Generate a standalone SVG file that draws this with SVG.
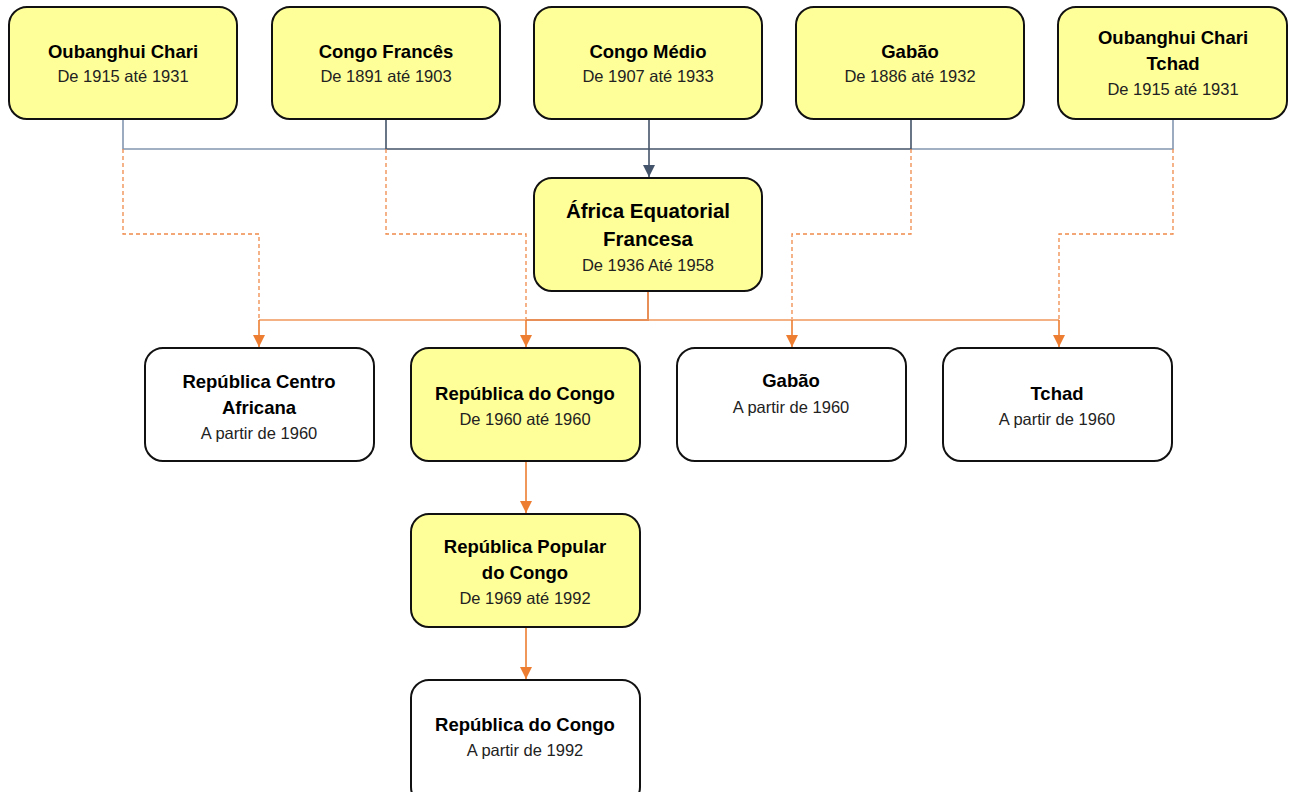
<svg xmlns="http://www.w3.org/2000/svg" width="1289" height="792" viewBox="0 0 1289 792">
<style>
.box{stroke:#111;stroke-width:2}
.y{fill:#FFFF99}
.w{fill:#FFFFFF}
.t{font-family:"Liberation Sans",Arial,sans-serif;font-weight:bold;font-size:18.5px;fill:#000;text-anchor:middle}
.tb{font-family:"Liberation Sans",Arial,sans-serif;font-weight:bold;font-size:20.5px;fill:#000;text-anchor:middle}
.s{font-family:"Liberation Sans",Arial,sans-serif;font-size:16.5px;fill:#222;text-anchor:middle}
.g1{fill:none;stroke:#8497B0;stroke-width:1.6}
.g2{fill:none;stroke:#44546A;stroke-width:1.6}
.d{fill:none;stroke:#F08A4B;stroke-width:1.3;stroke-dasharray:4 3}
.o{fill:none;stroke:#F4B183;stroke-width:2}
.o2{fill:none;stroke:#E88F57;stroke-width:2}
.oa{fill:none;stroke:#ED7D31;stroke-width:1.6;marker-end:url(#ao)}
</style>
<defs>
<marker id="ao" viewBox="0 0 10 10" refX="10" refY="5" markerWidth="12" markerHeight="12" markerUnits="userSpaceOnUse" orient="auto"><path d="M0,0 L10,5 L0,10 z" fill="#ED7D31"/></marker>
<marker id="ag" viewBox="0 0 10 10" refX="10" refY="5" markerWidth="12" markerHeight="12" markerUnits="userSpaceOnUse" orient="auto"><path d="M0,0 L10,5 L0,10 z" fill="#44546A"/></marker>
</defs>
<rect width="1289" height="792" fill="#fff"/>
<g id="connectors">
<path class="g1" d="M123,119 V149 H386"/>
<path class="g1" d="M911,149 H1173 V119"/>
<path class="g2" d="M386,119 V149 H911 V119"/>
<path d="M649,119 V177" fill="none" stroke="#44546A" stroke-width="1.6" marker-end="url(#ag)"/>
<path class="d" d="M123,149 V234 H259 V320"/>
<path class="d" d="M386,149 V234 H526 V320"/>
<path class="d" d="M911,149 V234 H792 V320"/>
<path class="d" d="M1173,149 V234 H1059 V320"/>
<path class="o" d="M259,320 H1059"/>
<path class="o2" d="M648,291 V320 H526"/>
<path class="oa" d="M259,320 V347"/>
<path class="oa" d="M526,320 V347"/>
<path class="oa" d="M792,320 V347"/>
<path class="oa" d="M1059,320 V347"/>
<path class="oa" d="M526,461 V513"/>
<path class="oa" d="M526,627 V679"/>
</g>
<g id="n1"><rect class="box y" x="9" y="7" width="228" height="112" rx="18"/><text class="t" x="123" y="58">Oubanghui Chari</text><text class="s" x="123" y="82">De 1915 até 1931</text></g>
<g id="n2"><rect class="box y" x="272" y="7" width="228" height="112" rx="18"/><text class="t" x="386" y="58">Congo Francês</text><text class="s" x="386" y="82">De 1891 até 1903</text></g>
<g id="n3"><rect class="box y" x="534" y="7" width="228" height="112" rx="18"/><text class="t" x="648" y="58">Congo Médio</text><text class="s" x="648" y="82">De 1907 até 1933</text></g>
<g id="n4"><rect class="box y" x="796" y="7" width="228" height="112" rx="18"/><text class="t" x="910" y="58">Gabão</text><text class="s" x="910" y="82">De 1886 até 1932</text></g>
<g id="n5"><rect class="box y" x="1058" y="7" width="229" height="112" rx="18"/><text class="t" x="1173" y="44">Oubanghui Chari</text><text class="t" x="1173" y="70">Tchad</text><text class="s" x="1173" y="95">De 1915 até 1931</text></g>
<g id="aef"><rect class="box y" x="534" y="178" width="228" height="113" rx="18"/><text class="tb" x="648" y="218">África Equatorial</text><text class="tb" x="648" y="246">Francesa</text><text class="s" x="648" y="271">De 1936 Até 1958</text></g>
<g id="rca"><rect class="box w" x="145" y="348" width="229" height="113" rx="18"/><text class="t" x="259" y="388">República Centro</text><text class="t" x="259" y="414">Africana</text><text class="s" x="259" y="439">A partir de 1960</text></g>
<g id="rc1960"><rect class="box y" x="411" y="348" width="229" height="113" rx="18"/><text class="t" x="525" y="400">República do Congo</text><text class="s" x="525" y="425">De 1960 até 1960</text></g>
<g id="gabao"><rect class="box w" x="677" y="348" width="229" height="113" rx="18"/><text class="t" x="791" y="387">Gabão</text><text class="s" x="791" y="413">A partir de 1960</text></g>
<g id="tchad"><rect class="box w" x="943" y="348" width="229" height="113" rx="18"/><text class="t" x="1057" y="400">Tchad</text><text class="s" x="1057" y="425">A partir de 1960</text></g>
<g id="rpc"><rect class="box y" x="411" y="514" width="229" height="113" rx="18"/><text class="t" x="525" y="553">República Popular</text><text class="t" x="525" y="579">do Congo</text><text class="s" x="525" y="604">De 1969 até 1992</text></g>
<g id="rc1992"><rect class="box w" x="411" y="680" width="229" height="125" rx="18"/><text class="t" x="525" y="731">República do Congo</text><text class="s" x="525" y="756">A partir de 1992</text></g>
</svg>
